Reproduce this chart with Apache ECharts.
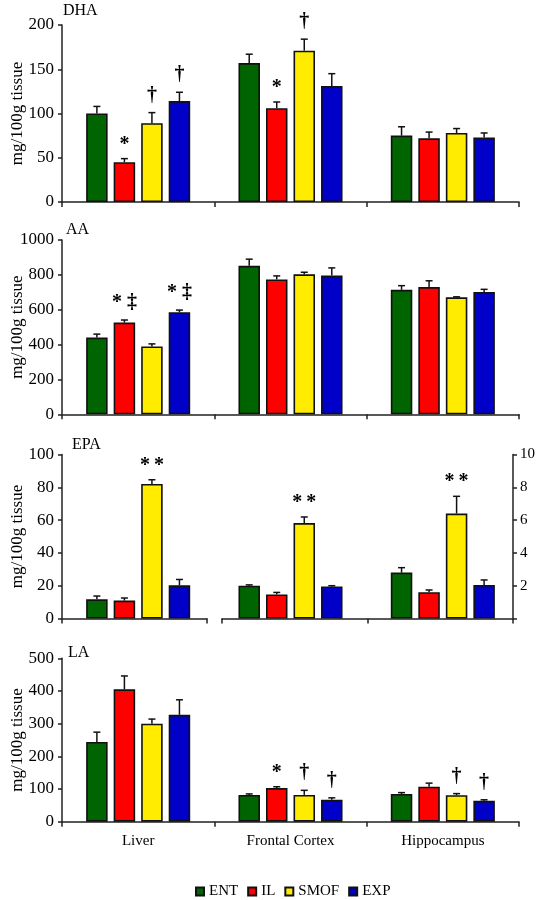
<!DOCTYPE html>
<html><head><meta charset="utf-8">
<script src="https://cdn.jsdelivr.net/npm/echarts@6/dist/echarts.min.js"></script>
<style>html,body{margin:0;padding:0;background:#fff}#c{width:539px;height:900px}</style>
</head><body><div id="c"></div>
<script>
// ---------- data ----------
const categories = ['Liver', 'Frontal Cortex', 'Hippocampus'];
const groups = ['ENT', 'IL', 'SMOF', 'EXP'];

// rows: ENT, IL, SMOF, EXP ; columns: Liver, Frontal Cortex, Hippocampus
const dhaMeans = [[100, 157, 75], [45, 106, 72], [89, 171, 78], [114, 131, 73]];
const dhaErrs  = [[8, 10, 10], [4, 7, 7], [12, 13, 5], [10, 14, 5]];
const dhaSigs  = [['', '', ''], ['*', '*', ''], ['†', '†', ''], ['†', '', '']];

const aaMeans = [[440, 852, 714], [526, 774, 730], [389, 803, 671], [585, 796, 702]];
const aaErrs  = [[20, 38, 24], [15, 20, 36], [15, 12, 3], [13, 44, 15]];
const aaSigs  = [['', '', ''], ['* ‡', '', ''], ['', '', ''], ['* ‡', '', '']];

// EPA: Liver on left axis (0-100), brain regions on right axis (0-10)
const epaMeans = [[11.7, 2.0, 2.8], [10.9, 1.47, 1.6], [82, 5.82, 6.4], [20.2, 1.95, 2.05]];
const epaErrs  = [[2, 0.05, 0.3], [1.6, 0.12, 0.14], [2.6, 0.37, 1.05], [3.6, 0.05, 0.3]];
const epaSigs  = [['', '', ''], ['', '', ''], ['*\u2009*', '*\u2009*', '*\u2009*'], ['', '', '']];

const laMeans = [[244, 82, 85], [405, 103, 107], [300, 82, 81], [327, 67, 64]];
const laErrs  = [[30, 3, 4], [41, 4, 11], [14, 14, 5], [46, 6, 3]];
const laSigs  = [['', '', ''], ['', '*', ''], ['', '†', '†'], ['', '†', '†']];

const dhaAxis = [0, 200, 50];
const aaAxis = [0, 1000, 200];
const epaLeftAxis = [0, 100, 20];
const epaRightAxis = [0, 10, 2];
const laAxis = [0, 500, 100];

// ---------- style ----------
const FONT = 'Liberation Serif';
const COLORS = ['#006400', '#ff0000', '#ffec00', '#0000c8'];
const BW = 21.5, GAP = 0.28, STEP = BW * (1 + GAP);
const LINE = { color: '#222', width: 1.5 };

function xAxisDef(gridIndex, data, opts) {
  return Object.assign({
    type: 'category', gridIndex, data,
    axisLine: { show: true, lineStyle: LINE },
    axisTick: { show: true, length: 5, lineStyle: LINE },
    axisLabel: { show: false },
    splitLine: { show: false }
  }, opts || {});
}
function yAxisDef(gridIndex, ax, opts) {
  return Object.assign({
    type: 'value', gridIndex, min: ax[0], max: ax[1], interval: ax[2],
    axisLine: { show: true, lineStyle: LINE },
    axisTick: { show: true, length: 4, lineStyle: LINE },
    axisLabel: { fontFamily: FONT, fontSize: 17, color: '#000', margin: 8, formatter: v => String(v) },
    splitLine: { show: false },
    name: 'mg/100g tissue', nameLocation: 'middle', nameGap: 36, nameMoveOverlap: false,
    nameTextStyle: { fontFamily: FONT, fontSize: 17, color: '#000' }
  }, opts || {});
}

function barSeries(means, xi, yi, cats) {
  return groups.map((g, gi) => ({
    type: 'bar', name: g, xAxisIndex: xi, yAxisIndex: yi,
    barWidth: BW, barGap: (GAP * 100) + '%',
    itemStyle: { color: COLORS[gi], borderColor: '#111', borderWidth: 1.6 },
    data: means[gi].map((v, ci) => cats.includes(ci) ? v : null),
    z: 2
  }));
}

function errSeries(means, errs, sigs, xi, yi, cats) {
  const data = [], labels = [];
  groups.forEach((g, gi) => {
    cats.forEach(ci => {
      data.push([ci, means[gi][ci], errs[gi][ci], gi]);
      labels.push(sigs[gi][ci]);
    });
  });
  return {
    type: 'custom', xAxisIndex: xi, yAxisIndex: yi, z: 5, silent: true,
    encode: { x: 0, y: 1 },
    data,
    renderItem: function (params, api) {
      const c = api.value(0), v = api.value(1), e = api.value(2), g = api.value(3);
      const base = api.coord([c, v]);
      const top = api.coord([c, v + e]);
      const x = base[0] + (g - 1.5) * STEP;
      const children = [
        { type: 'line', shape: { x1: x, y1: base[1], x2: x, y2: top[1] }, style: { stroke: '#111', lineWidth: 1.5 } },
        { type: 'line', shape: { x1: x - 3.5, y1: top[1], x2: x + 3.5, y2: top[1] }, style: { stroke: '#111', lineWidth: 1.5 } }
      ];
      const s = labels[params.dataIndex];
      if (s) {
        const isStar = s.indexOf('*') >= 0 && s.indexOf('‡') < 0;
        children.push({
          type: 'text',
          style: {
            text: s, x: x, y: top[1] - (isStar ? 14 : 17),
            align: 'center', verticalAlign: 'middle',
            textAlign: 'center', textVerticalAlign: 'middle',
            font: 'bold 20px "' + FONT + '"', fill: '#000'
          }
        });
      }
      return { type: 'group', children };
    }
  };
}

const all = [0, 1, 2];
const G = { left: 62, right: 20, outerBoundsMode: 'none', containLabel: false };
const grids = [
  Object.assign({ top: 25, bottom: 698 }, G),                 // 0 DHA
  Object.assign({ top: 240, bottom: 485.7 }, G),              // 1 AA
  Object.assign({ top: 454.5, bottom: 281.5 }, G),            // 2 EPA liver bars
  Object.assign({ top: 454.5, bottom: 281.5 }, G),            // 3 EPA brain bars
  Object.assign({}, G, { left: 62, right: 332, top: 454.5, bottom: 281.5 }),   // 4 EPA axis segment A
  Object.assign({}, G, { left: 222, right: 26, top: 454.5, bottom: 281.5 }),   // 5 EPA axis segment B + right axis
  Object.assign({ top: 658.3, bottom: 78.3 }, G)              // 6 LA
];

const xAxes = [
  xAxisDef(0, categories),
  xAxisDef(1, categories),
  xAxisDef(2, categories, { axisLine: { show: false }, axisTick: { show: false } }),
  xAxisDef(3, categories, { axisLine: { show: false }, axisTick: { show: false } }),
  xAxisDef(4, [categories[0]]),
  xAxisDef(5, [categories[1], categories[2]]),
  xAxisDef(6, categories, { axisLabel: { show: true, fontFamily: FONT, fontSize: 15, color: '#000', margin: 12 } })
];

const yAxes = [
  yAxisDef(0, dhaAxis),
  yAxisDef(1, aaAxis),
  yAxisDef(2, epaLeftAxis),
  yAxisDef(3, epaRightAxis, { show: false, name: '' }),
  yAxisDef(4, epaLeftAxis, { show: false, name: '' }),
  yAxisDef(5, epaRightAxis, {
    position: 'right', name: '',
    axisLabel: { fontFamily: FONT, fontSize: 15, color: '#000', margin: 7, formatter: v => v === 0 ? '' : String(v) }
  }),
  yAxisDef(6, laAxis)
];

const series = [].concat(
  barSeries(dhaMeans, 0, 0, all), [errSeries(dhaMeans, dhaErrs, dhaSigs, 0, 0, all)],
  barSeries(aaMeans, 1, 1, all), [errSeries(aaMeans, aaErrs, aaSigs, 1, 1, all)],
  barSeries(epaMeans, 2, 2, [0]), [errSeries(epaMeans, epaErrs, epaSigs, 2, 2, [0])],
  barSeries(epaMeans, 3, 3, [1, 2]), [errSeries(epaMeans, epaErrs, epaSigs, 3, 3, [1, 2])],
  barSeries(laMeans, 6, 6, all), [errSeries(laMeans, laErrs, laSigs, 6, 6, all)]
);

const titleStyle = { fontFamily: FONT, fontSize: 16, fontWeight: 'normal', color: '#000' };
const option = {
  animation: false,
  backgroundColor: '#fff',
  title: [
    { text: 'DHA', left: 63, top: 3, padding: 0, textStyle: titleStyle },
    { text: 'AA', left: 66, top: 222, padding: 0, textStyle: titleStyle },
    { text: 'EPA', left: 72, top: 437, padding: 0, textStyle: titleStyle },
    { text: 'LA', left: 68, top: 645, padding: 0, textStyle: titleStyle }
  ],
  legend: {
    data: groups, top: 884, left: 195, icon: 'rect', padding: 0,
    itemWidth: 8, itemHeight: 8, itemGap: 9,
    textStyle: { fontFamily: FONT, fontSize: 15, color: '#000' }
  },
  grid: grids,
  xAxis: xAxes,
  yAxis: yAxes,
  series
};

const chart = echarts.init(document.getElementById('c'), null, { renderer: 'canvas' });
chart.setOption(option);
</script>
</body></html>
